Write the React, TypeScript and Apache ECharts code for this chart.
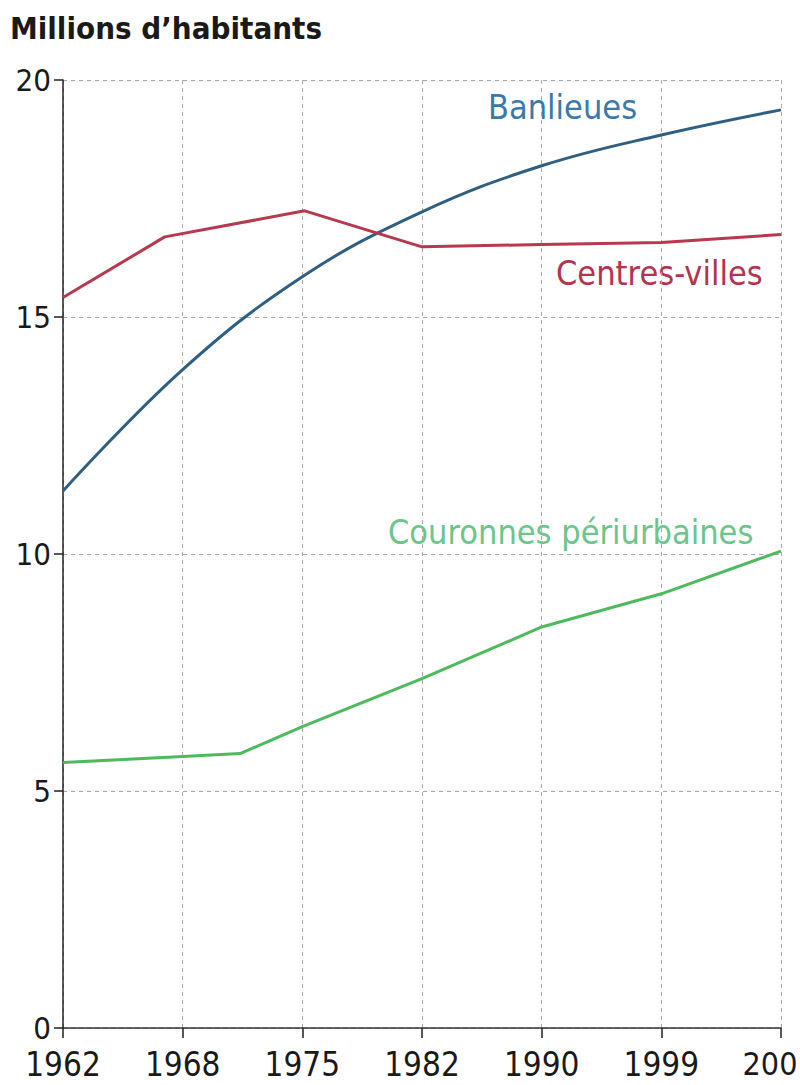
import React, { useEffect, useRef } from "react";
import * as echarts from "echarts";

const tickLabels = ["1962", "1968", "1975", "1982", "1990", "1999", "200"];

// [position on the year axis (tick index), millions]
const banlieues: [number, number][] = [
  [0, 11.33], [1, 13.89], [2, 15.85], [3, 17.22], [4, 18.19], [5, 18.84], [6, 19.37],
];
const centresVilles: [number, number][] = [
  [0, 15.41], [0.85, 16.69], [2.02, 17.24], [3, 16.48], [4, 16.53], [5, 16.57], [6, 16.74],
];
const couronnes: [number, number][] = [
  [0, 5.6], [1, 5.73], [1.48, 5.79], [2, 6.36], [3, 7.37], [4, 8.46], [5, 9.16], [6, 10.06],
];

const FONT = "'DejaVu Sans Condensed', 'DejaVu Sans', 'Noto Sans', sans-serif";

export default function App() {
  const ref = useRef<HTMLDivElement>(null);
  useEffect(() => {
    if (!ref.current) return;
    const chart = echarts.init(ref.current, undefined, { renderer: "svg" });
    const lastIdx = tickLabels.length - 1;
    chart.setOption({
      animation: false,
      backgroundColor: "#ffffff",
      grid: { left: 63, right: 19, top: 80, bottom: 57, containLabel: false, outerBoundsMode: "none" },
      xAxis: {
        type: "value",
        min: 0,
        max: 6,
        interval: 1,
        axisLine: { show: true, lineStyle: { color: "#333", width: 1.5 } },
        axisTick: { show: true, length: 10, lineStyle: { color: "#222", width: 1.5 } },
        axisLabel: {
          formatter: (v: number) => {
            const i = Math.round(v);
            const t = tickLabels[i] ?? "";
            return i === lastIdx ? `{last|${t}}` : t;
          },
          rich: {
            last: { fontSize: 32, lineHeight: 30, fontFamily: FONT, color: "#1a1a1a", padding: [0, 22, 0, 0] },
          },
          color: "#1a1a1a",
          fontSize: 33,
          lineHeight: 30,
          fontFamily: FONT,
          margin: 21,
          showMaxLabel: true,
          showMinLabel: true,
          hideOverlap: false,
        },
        splitLine: { show: true, lineStyle: { color: "#a8a8a8", type: [4, 4], width: 1 } },
      },
      yAxis: {
        type: "value",
        min: 0,
        max: 20,
        interval: 5,
        axisLine: { show: true, lineStyle: { color: "#222", width: 1.5 } },
        axisTick: { show: true, length: 9, lineStyle: { color: "#222", width: 1.5 } },
        axisLabel: {
          color: "#1a1a1a",
          fontSize: 31,
          lineHeight: 26,
          fontFamily: FONT,
          margin: 12,
          padding: [0, 0, 4, 0],
        },
        splitLine: { show: true, lineStyle: { color: "#a8a8a8", type: [4, 4], width: 1 } },
      },
      series: [
        {
          name: "Banlieues",
          type: "line",
          data: banlieues,
          smooth: 0.4,
          showSymbol: false,
          lineStyle: { color: "#2f5f82", width: 3 },
        },
        {
          name: "Centres-villes",
          type: "line",
          data: centresVilles,
          showSymbol: false,
          lineStyle: { color: "#b8384f", width: 3 },
        },
        {
          name: "Couronnes périurbaines",
          type: "line",
          data: couronnes,
          showSymbol: false,
          lineStyle: { color: "#4dba5c", width: 3 },
        },
      ],
      graphic: [
        {
          type: "text",
          left: 10,
          top: 12,
          style: { text: "Millions d’habitants", fontSize: 31, fontWeight: "bold", fontFamily: FONT, fill: "#1a1a1a" },
        },
        {
          type: "text",
          left: 488,
          top: 90,
          style: { text: "Banlieues", fontSize: 34, fontFamily: FONT, fill: "#3a7aab" },
        },
        {
          type: "text",
          left: 556,
          top: 256,
          style: { text: "Centres-villes", fontSize: 34, fontFamily: FONT, fill: "#b3344c" },
        },
        {
          type: "text",
          left: 388,
          top: 515,
          style: { text: "Couronnes périurbaines", fontSize: 34, fontFamily: FONT, fill: "#6cc58a" },
        },
      ],
    });
    return () => chart.dispose();
  }, []);
  return (
    <div
      ref={ref}
      style={{ position: "fixed", left: 0, top: 0, width: 800, height: 1085, background: "#fff" }}
    />
  );
}
